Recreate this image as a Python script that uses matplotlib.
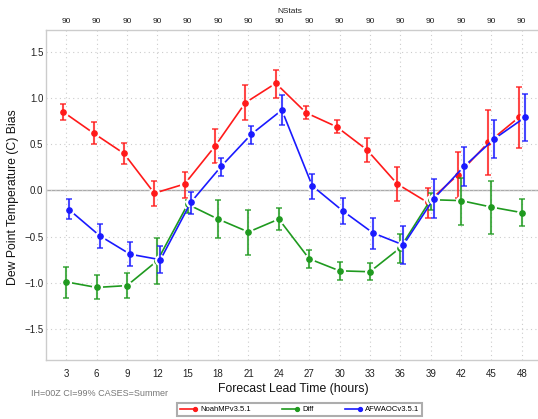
import matplotlib
matplotlib.use("Agg")
import matplotlib.pyplot as plt
from matplotlib.lines import Line2D
from matplotlib.legend_handler import HandlerBase
import numpy as np

plt.rcParams['font.family'] = ['Liberation Sans', 'DejaVu Sans']

lead = [3, 6, 9, 12, 15, 18, 21, 24, 27, 30, 33, 36, 39, 42, 45, 48]
nstats = [90] * 16

noah = [0.85, 0.62, 0.40, -0.03, 0.07, 0.48, 0.95, 1.16, 0.84, 0.69, 0.44, 0.07, -0.13, 0.17, 0.52, 0.79]
noah_hi = [0.94, 0.74, 0.51, 0.10, 0.20, 0.66, 1.14, 1.30, 0.91, 0.76, 0.57, 0.25, 0.03, 0.42, 0.87, 1.12]
noah_lo = [0.76, 0.50, 0.29, -0.17, -0.08, 0.30, 0.76, 1.00, 0.77, 0.62, 0.31, -0.11, -0.30, -0.08, 0.17, 0.46]

diff = [-0.99, -1.05, -1.03, -0.76, -0.15, -0.31, -0.45, -0.31, -0.74, -0.87, -0.88, -0.62, -0.10, -0.11, -0.18, -0.24]
diff_hi = [-0.83, -0.92, -0.89, -0.51, -0.10, -0.10, -0.21, -0.19, -0.64, -0.77, -0.79, -0.47, -0.03, 0.14, 0.10, -0.09]
diff_lo = [-1.16, -1.18, -1.16, -1.01, -0.24, -0.52, -0.70, -0.43, -0.84, -0.97, -0.97, -0.78, -0.21, -0.37, -0.47, -0.39]

afwa = [-0.21, -0.49, -0.69, -0.75, -0.13, 0.26, 0.61, 0.87, 0.05, -0.22, -0.46, -0.59, -0.09, 0.26, 0.56, 0.79]
afwa_hi = [-0.09, -0.36, -0.56, -0.60, -0.02, 0.35, 0.70, 1.03, 0.18, -0.08, -0.30, -0.38, 0.12, 0.47, 0.76, 1.04]
afwa_lo = [-0.31, -0.62, -0.82, -0.89, -0.25, 0.16, 0.50, 0.71, -0.09, -0.36, -0.63, -0.80, -0.30, 0.05, 0.35, 0.54]

series = [
    ("NoahMPv3.5.1", noah, noah_lo, noah_hi, "#ff1a1a", -0.3),
    ("Diff", diff, diff_lo, diff_hi, "#1f9a1f", 0.0),
    ("AFWAOCv3.5.1", afwa, afwa_lo, afwa_hi, "#1a1aff", 0.3),
]


class RightMarkerHandler(HandlerBase):
    def create_artists(self, legend, orig_handle, xdescent, ydescent, width, height,
                       fontsize, trans):
        y = height / 2.0 - ydescent
        col = orig_handle.get_color()
        line = Line2D([-xdescent, -xdescent + width], [y, y], color=col, linewidth=1.2)
        mk = Line2D([-xdescent + width], [y], linestyle="none", marker="o",
                    markersize=2.8, color=col)
        line.set_transform(trans)
        mk.set_transform(trans)
        return [line, mk]


fig = plt.figure(figsize=(5.38, 4.19), dpi=100)
ax = fig.add_axes([0.0855, 0.142, 0.922, 0.786])
ax.set_xlim(1.0, 50.0)
ax.set_ylim(-1.83, 1.735)

ax.set_xticks(lead)
ax.set_xticklabels([str(v) for v in lead], fontsize=7, color="#222222")
ax.set_yticks([-1.5, -1.0, -0.5, 0.0, 0.5, 1.0, 1.5])
ax.set_yticklabels(["\u22121.5", "\u22121.0", "\u22120.5", "0.0", "0.5", "1.0", "1.5"], fontsize=7, color="#222222")
ax.tick_params(axis="x", length=0, pad=6.5)
ax.tick_params(axis="y", length=0, pad=2)
ax.grid(True, color="#cccccc", linestyle=(0, (1, 3)), linewidth=0.8)
ax.axhline(0, color="#aaaaaa", linewidth=1.0, zorder=1)
for s in ax.spines.values():
    s.set_color("#cccccc")
    s.set_linewidth(1.0)

x = np.array(lead, dtype=float)
handles = []
for i, (name, v, lo, hi, col, off) in enumerate(series):
    xs = x + off
    v = np.array(v); lo = np.array(lo); hi = np.array(hi)
    z = 3 + i * 4
    ax.plot(xs, v, color=col, linewidth=1.2, zorder=z)
    ax.plot(xs, v, linestyle="none", marker="o", markersize=7, color="white", zorder=z + 0.5)
    ax.errorbar(xs, v, yerr=[v - lo, hi - v], fmt="none", ecolor=col, elinewidth=1.5,
                capsize=2, capthick=1.2, alpha=0.8, zorder=z + 1)
    ax.plot(xs, v, linestyle="none", marker="o", markersize=3.8, color=col, zorder=z + 2)
    handles.append(Line2D([0, 1], [0, 0], color=col, linewidth=1.2, label=name))

# top NStats axis
ax2 = ax.twiny()
ax2.set_xlim(ax.get_xlim())
ax2.set_xticks(lead)
ax2.set_xticklabels([str(n) for n in nstats], fontsize=6, color="#222222")
ax2.tick_params(length=0, pad=4)
for s in ax2.spines.values():
    s.set_visible(False)
fig.text(0.538, 0.972, "NStats", fontsize=6, color="#222222", ha="center", va="center")

fig.text(0.024, 0.53, "Dew Point Temperature (C) Bias", rotation=90, fontsize=8.8,
         ha="center", va="center", color="#111111")
fig.text(0.546, 0.0716, "Forecast Lead Time (hours)", fontsize=8.8, ha="center", va="center",
         color="#111111")
fig.text(0.058, 0.060, "IH=00Z CI=99% CASES=Summer", fontsize=6.5, ha="left", va="center",
         color="#777777")

leg = fig.legend(handles=handles, loc="lower left", ncol=3, mode="expand",
                 bbox_to_anchor=(0.329, 0.007, 0.455, 0.043),
                 handler_map={Line2D: RightMarkerHandler()},
                 fontsize=5.5, frameon=True, fancybox=False, handlelength=2.0,
                 handletextpad=0.65, borderpad=0.35, borderaxespad=0)
leg.get_frame().set_edgecolor("#999999")
leg.get_frame().set_linewidth(1.5)

fig.savefig("out.png", dpi=100)
